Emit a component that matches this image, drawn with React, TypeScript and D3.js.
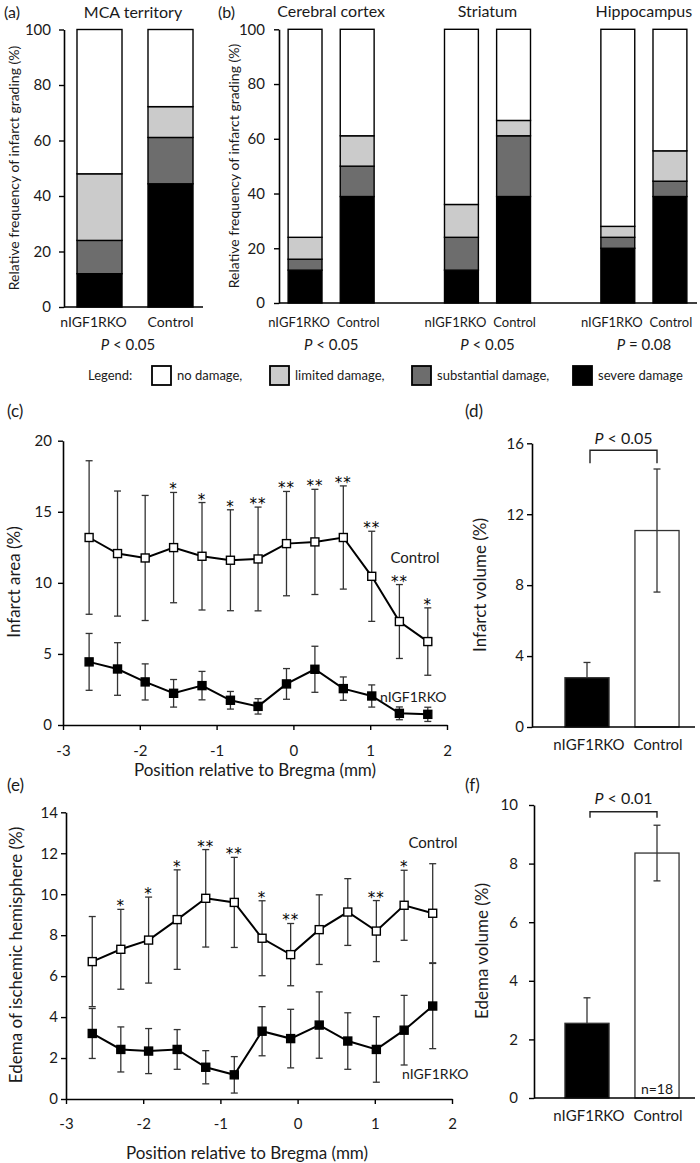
import React, { useEffect, useRef } from 'react'
import * as d3 from 'd3'

const FONT = 'Lato, "Open Sans", sans-serif'
const INK = '#1a1a1a'

// (a)/(b) infarct grading, % of animals in each grade
const regions = ['MCA territory', 'Cerebral cortex', 'Striatum', 'Hippocampus']
const groups = ['nIGF1RKO', 'Control']
const gradeKeys = ['severe', 'substantial', 'limited', 'none']
const legendKeys = ['none', 'limited', 'substantial', 'severe']
const legendLabels = ['no damage,', 'limited damage,', 'substantial damage,', 'severe damage']
const koSevere = [12, 12, 12, 20]
const koSubstantial = [12, 4, 12, 4]
const koLimited = [24, 8, 12, 4]
const koNone = [52, 76, 64, 72]
const ctrlSevere = [44.4, 38.9, 38.9, 38.9]
const ctrlSubstantial = [16.7, 11.1, 22.2, 5.6]
const ctrlLimited = [11.1, 11.1, 5.6, 11.1]
const ctrlNone = [27.8, 38.9, 33.3, 44.4]
const gradingP = ['P < 0.05', 'P < 0.05', 'P < 0.05', 'P = 0.08']
const gradingTicks = [0, 20, 40, 60, 80, 100]

// (c)/(e) slices relative to Bregma (mm)
const positions = [-2.66, -2.29, -1.93, -1.56, -1.19, -0.82, -0.46, -0.09, 0.28, 0.65, 1.02, 1.38, 1.75]
const posTicks = [-3, -2, -1, 0, 1, 2]

// (c) infarct area (%)
const infarctCtrl = [13.19, 12.06, 11.75, 12.48, 11.87, 11.59, 11.68, 12.76, 12.88, 13.19, 10.46, 7.28, 5.87]
const infarctCtrlSd = [5.4, 4.4, 4.4, 3.88, 3.78, 3.55, 3.65, 3.67, 3.7, 3.63, 3.17, 2.6, 2.37]
const infarctKo = [4.44, 3.94, 3.03, 2.23, 2.77, 1.74, 1.31, 2.89, 3.92, 2.56, 2.04, 0.82, 0.75]
const infarctKoSd = [2.0, 1.85, 1.27, 0.97, 1.0, 0.62, 0.54, 1.08, 1.62, 0.82, 0.78, 0.45, 0.5]
const infarctStars = ['', '', '', '*', '*', '*', '**', '**', '**', '**', '**', '**', '*']
const infarctTicks = [0, 5, 10, 15, 20]

// (e) edema of ischemic hemisphere (%)
const edemaCtrl = [6.71, 7.31, 7.76, 8.76, 9.8, 9.6, 7.85, 7.05, 8.27, 9.13, 8.2, 9.46, 9.07]
const edemaCtrlSd = [2.2, 1.95, 2.1, 2.43, 2.38, 2.2, 1.83, 1.52, 1.7, 1.63, 1.49, 1.71, 2.42]
const edemaKo = [3.2, 2.42, 2.34, 2.42, 1.55, 1.18, 3.31, 2.95, 3.61, 2.83, 2.42, 3.36, 4.54]
const edemaKoSd = [1.22, 1.1, 1.1, 0.97, 0.81, 0.89, 1.2, 1.43, 1.62, 1.38, 1.6, 1.7, 2.08]
const edemaStars = ['', '*', '*', '*', '**', '**', '*', '**', '', '', '**', '*', '']
const edemaTicks = [0, 2, 4, 6, 8, 10, 12, 14]

// (d) infarct volume, (f) edema volume (%)
const infarctVolume = [2.78, 11.08]
const infarctVolumeSd = [0.86, 3.47]
const infarctVolumeTicks = [0, 4, 8, 12, 16]
const edemaVolume = [2.55, 8.36]
const edemaVolumeSd = [0.87, 0.95]
const edemaVolumeTicks = [0, 2, 4, 6, 8, 10]

const gradeColors: Record<string, string> = {
  none: '#ffffff',
  limited: '#cbcbcb',
  substantial: '#6d6d6d',
  severe: '#000000'
}

function gradingRow(i: number, group: string) {
  const ko = group === 'nIGF1RKO'
  return {
    region: regions[i],
    group,
    severe: ko ? koSevere[i] : ctrlSevere[i],
    substantial: ko ? koSubstantial[i] : ctrlSubstantial[i],
    limited: ko ? koLimited[i] : ctrlLimited[i],
    none: ko ? koNone[i] : ctrlNone[i]
  }
}

export default function App() {
  const svgRef = useRef<SVGSVGElement>(null)

  useEffect(() => {
    const svg = d3.select(svgRef.current)
    svg.selectAll('*').remove()
    svg.attr('font-family', FONT)

    const text = (x: number, y: number, s: string, size: number, anchor = 'middle') =>
      svg.append('text')
        .attr('x', x).attr('y', y)
        .attr('text-anchor', anchor)
        .attr('font-size', size)
        .attr('fill', INK)
        .text(s)

    const vtext = (x: number, y: number, s: string, size: number) =>
      svg.append('text')
        .attr('transform', `translate(${x},${y}) rotate(-90)`)
        .attr('text-anchor', 'middle')
        .attr('dominant-baseline', 'central')
        .attr('font-size', size)
        .attr('fill', INK)
        .text(s)

    const pText = (x: number, y: number, s: string, size: number) => {
      const t = svg.append('text')
        .attr('x', x).attr('y', y)
        .attr('text-anchor', 'middle')
        .attr('font-size', size)
        .attr('fill', INK)
      t.append('tspan').attr('font-style', 'italic').text(s.slice(0, 1))
      t.append('tspan').text(s.slice(1))
    }

    const styleAxis = (g: any, size: number) => {
      g.attr('font-family', FONT)
      g.selectAll('text').attr('font-size', size).attr('fill', INK)
      g.selectAll('line').attr('stroke', '#000').attr('stroke-width', 1.4)
      g.select('.domain').attr('stroke', '#000').attr('stroke-width', 1.6)
    }

    const hline = (x1: number, x2: number, y: number) =>
      svg.append('line')
        .attr('x1', x1).attr('x2', x2).attr('y1', y).attr('y2', y)
        .attr('stroke', '#000').attr('stroke-width', 1.6)

    const drawStack = (rows: any[], xOf: (r: any) => number, w: number, y: any) => {
      const series = d3.stack<any>().keys(gradeKeys)(rows)
      svg.append('g')
        .selectAll('g')
        .data(series)
        .join('g')
        .attr('fill', d => gradeColors[d.key])
        .selectAll('rect')
        .data(d => d)
        .join('rect')
        .attr('x', d => xOf(d.data))
        .attr('y', d => y(d[1]))
        .attr('width', w)
        .attr('height', d => y(d[0]) - y(d[1]))
        .attr('stroke', '#000')
        .attr('stroke-width', 1.4)
    }

    // ---------- (a) MCA territory ----------
    const yA = d3.scaleLinear().domain([0, 100]).range([307, 29.5])
    const xA = d3.scaleBand().domain(groups).range([64, 206]).paddingInner(0.366).paddingOuter(0.183)
    drawStack(groups.map(g => gradingRow(0, g)), r => xA(r.group)!, xA.bandwidth(), yA)
    styleAxis(svg.append('g').attr('transform', 'translate(64,0)')
      .call(d3.axisLeft(yA).tickValues(gradingTicks).tickSize(5).tickSizeOuter(0).tickPadding(8)), 15)
    hline(64, 203, yA(0))
    text(4, 18, '(a)', 16, 'start')
    text((xA('nIGF1RKO')! + xA('Control')! + xA.bandwidth()) / 2 - 2, 18, regions[0], 16)
    vtext(13, 168, 'Relative frequency of infarct grading (%)', 14)
    groups.forEach((g, j) => text(xA(g)! + xA.bandwidth() / 2 - (j === 0 ? 6 : 0), 327, g, 14))
    pText((xA('nIGF1RKO')! + xA('Control')! + xA.bandwidth()) / 2 - 7, 350, gradingP[0], 15)

    // ---------- (b) cortex / striatum / hippocampus ----------
    const slots: string[] = []
    regions.slice(1).forEach((r, i) => {
      groups.forEach(g => slots.push(`${r}|${g}`))
      if (i < 2) slots.push(`gap${i}`)
    })
    const yB = d3.scaleLinear().domain([0, 100]).range([303, 29.3])
    const xB = d3.scaleBand().domain(slots).range([279, 696]).paddingInner(0.35).paddingOuter(0.175)
    const rowsB = regions.slice(1).flatMap((r, i) => groups.map(g => gradingRow(i + 1, g)))
    drawStack(rowsB, r => xB(`${r.region}|${r.group}`)!, xB.bandwidth(), yB)
    styleAxis(svg.append('g').attr('transform', 'translate(279,0)')
      .call(d3.axisLeft(yB).tickValues(gradingTicks).tickSize(5).tickSizeOuter(0).tickPadding(9)), 15)
    hline(279, 697, yB(0))
    text(218, 18, '(b)', 16, 'start')
    vtext(233, 166, 'Relative frequency of infarct grading (%)', 14)
    regions.slice(1).forEach((r, i) => {
      const x0 = xB(`${r}|nIGF1RKO`)!
      const x1 = xB(`${r}|Control`)!
      const mid = (x0 + x1 + xB.bandwidth()) / 2
      text(mid, 17, r, 16)
      text(x0 + xB.bandwidth() / 2 - 6, 327, 'nIGF1RKO', 13)
      text(x1 + xB.bandwidth() / 2 + 1, 327, 'Control', 13)
      pText(mid, 350, gradingP[i + 1], 15)
    })

    // legend
    const legendBoxX = [152, 270, 412, 573]
    text(88, 380, 'Legend:', 13, 'start')
    legendKeys.forEach((k, i) => {
      svg.append('rect')
        .attr('x', legendBoxX[i]).attr('y', 366)
        .attr('width', 19).attr('height', 19)
        .attr('fill', gradeColors[k])
        .attr('stroke', '#000').attr('stroke-width', 1.8)
      text(legendBoxX[i] + 25, 380, legendLabels[i], 13, 'start')
    })

    // ---------- line panels (c) and (e) ----------
    const drawLines = (
      x: any, y: any,
      ctrl: number[], ctrlSd: number[], ko: number[], koSd: number[], stars: string[]
    ) => {
      const g = svg.append('g')
      const errorBars = (mean: number[], sd: number[]) => {
        const eb = g.append('g').attr('stroke', '#333').attr('stroke-width', 1.3)
        eb.selectAll('line.v').data(mean).join('line').attr('class', 'v')
          .attr('x1', (d, i) => x(positions[i])).attr('x2', (d, i) => x(positions[i]))
          .attr('y1', (d, i) => y(d + sd[i])).attr('y2', (d, i) => y(d - sd[i]))
        ;[1, -1].forEach(sign => {
          eb.selectAll(`line.c${sign}`).data(mean).join('line').attr('class', `c${sign}`)
            .attr('x1', (d, i) => x(positions[i]) - 3.5).attr('x2', (d, i) => x(positions[i]) + 3.5)
            .attr('y1', (d, i) => y(d + sign * sd[i])).attr('y2', (d, i) => y(d + sign * sd[i]))
        })
      }
      errorBars(ctrl, ctrlSd)
      errorBars(ko, koSd)
      const line = d3.line<number>().x((d, i) => x(positions[i])).y(d => y(d))
      ;[[ctrl, '#fff'], [ko, '#000']].forEach(([vals, fill]: any) => {
        g.append('path').datum(vals).attr('d', line)
          .attr('fill', 'none').attr('stroke', '#000').attr('stroke-width', 2)
        g.selectAll(null).data(vals).join('rect')
          .attr('x', (d, i) => x(positions[i]) - 4).attr('y', (d: any) => y(d) - 4)
          .attr('width', 8).attr('height', 8)
          .attr('fill', fill).attr('stroke', '#000').attr('stroke-width', 1.4)
      })
      g.selectAll('text.star').data(stars).join('text').attr('class', 'star')
        .attr('x', (d, i) => x(positions[i]))
        .attr('y', (d, i) => y(ctrl[i] + ctrlSd[i]) + 2)
        .attr('text-anchor', 'middle')
        .attr('font-family', '"DejaVu Sans", sans-serif')
        .attr('font-size', 15)
        .attr('letter-spacing', 1)
        .attr('fill', '#000')
        .text(d => d)
    }

    // (c)
    const xC = d3.scaleLinear().domain([-3, 2]).range([63, 447])
    const yC = d3.scaleLinear().domain([0, 20]).range([725, 440.7])
    styleAxis(svg.append('g').attr('transform', `translate(63,0)`)
      .call(d3.axisLeft(yC).tickValues(infarctTicks).tickSize(5).tickSizeOuter(0).tickPadding(6)), 15)
    styleAxis(svg.append('g').attr('transform', `translate(0,${yC(0)})`)
      .call(d3.axisBottom(xC).tickValues(posTicks).tickFormat(d => String(d)).tickSize(5).tickSizeOuter(0).tickPadding(15)), 15)
    drawLines(xC, yC, infarctCtrl, infarctCtrlSd, infarctKo, infarctKoSd, infarctStars)
    text(7, 417, '(c)', 17, 'start')
    vtext(13, 582, 'Infarct area (%)', 17)
    text(255, 776, 'Position relative to Bregma (mm)', 17)
    text(415, 563, 'Control', 15)
    text(380, 702, 'nIGF1RKO', 14, 'start')

    // (e)
    const xE = d3.scaleLinear().domain([-3, 2]).range([66, 452])
    const yE = d3.scaleLinear().domain([0, 14]).range([1099, 812.3])
    styleAxis(svg.append('g').attr('transform', `translate(66,0)`)
      .call(d3.axisLeft(yE).tickValues(edemaTicks).tickSize(5).tickSizeOuter(0).tickPadding(3)), 15)
    styleAxis(svg.append('g').attr('transform', `translate(0,${yE(0)})`)
      .call(d3.axisBottom(xE).tickValues(posTicks).tickFormat(d => String(d)).tickSize(5).tickSizeOuter(0).tickPadding(14)), 15)
    drawLines(xE, yE, edemaCtrl, edemaCtrlSd, edemaKo, edemaKoSd, edemaStars)
    text(7, 791, '(e)', 17, 'start')
    vtext(15, 955, 'Edema of ischemic hemisphere (%)', 17)
    text(247, 1159, 'Position relative to Bregma (mm)', 17)
    text(433, 848, 'Control', 15)
    text(402, 1079, 'nIGF1RKO', 14, 'start')

    // ---------- bar panels (d) and (f) ----------
    const xBar = d3.scaleBand().domain(groups).range([552, 692]).paddingInner(0.37).paddingOuter(0.185)
    const drawBars = (
      y: any, mean: number[], sd: number[], ticks: number[], tickPad: number,
      axisX: number, p: string, pY: number, brY: number, legY: number, labelY: number
    ) => {
      styleAxis(svg.append('g').attr('transform', `translate(${axisX},0)`)
        .call(d3.axisLeft(y).tickValues(ticks).tickSize(5).tickSizeOuter(0).tickPadding(tickPad)), 15)
      const cx = (g: string) => xBar(g)! + xBar.bandwidth() / 2
      svg.append('g').selectAll('rect').data(mean).join('rect')
        .attr('x', (d, i) => xBar(groups[i])!)
        .attr('y', d => y(d))
        .attr('width', xBar.bandwidth())
        .attr('height', d => y(0) - y(d))
        .attr('fill', (d, i) => (i === 0 ? '#000' : '#fff'))
        .attr('stroke', '#333').attr('stroke-width', 1.3)
      const eb = svg.append('g').attr('stroke', '#333').attr('stroke-width', 1.3)
      mean.forEach((m, i) => {
        const x = cx(groups[i])
        const lo = i === 0 ? m : m - sd[i]
        eb.append('line').attr('x1', x).attr('x2', x).attr('y1', y(m + sd[i])).attr('y2', y(lo))
        eb.append('line').attr('x1', x - 3.5).attr('x2', x + 3.5).attr('y1', y(m + sd[i])).attr('y2', y(m + sd[i]))
        if (i > 0) eb.append('line').attr('x1', x - 3.5).attr('x2', x + 3.5).attr('y1', y(lo)).attr('y2', y(lo))
      })
      hline(axisX, 695, y(0))
      const b0 = cx(groups[0]) + 3
      const b1 = cx(groups[1])
      svg.append('path')
        .attr('d', `M${b0},${legY}V${brY}H${b1}V${legY}`)
        .attr('fill', 'none').attr('stroke', '#222').attr('stroke-width', 1.4)
      pText((b0 + b1) / 2, pY, p, 16)
      text(cx(groups[0]) + 2, labelY, groups[0], 15)
      text(cx(groups[1]) + 1, labelY, groups[1], 15)
    }

    // (d)
    const yD = d3.scaleLinear().domain([0, 16]).range([727, 443.3])
    drawBars(yD, infarctVolume, infarctVolumeSd, infarctVolumeTicks, 3, 532, 'P < 0.05', 444, 450.3, 463.3, 750)
    text(465, 417, '(d)', 17, 'start')
    vtext(479, 585, 'Infarct volume (%)', 17)

    // (f)
    const yF = d3.scaleLinear().domain([0, 10]).range([1098, 805])
    drawBars(yF, edemaVolume, edemaVolumeSd, edemaVolumeTicks, 11, 534, 'P < 0.01', 804, 811.7, 817.7, 1121)
    text(465, 791, '(f)', 17, 'start')
    vtext(481, 951, 'Edema volume (%)', 17)
    text(xBar('Control')! + xBar.bandwidth() / 2, 1094, 'n=18', 14)
  }, [])

  return (
    <svg
      ref={svgRef}
      width={700}
      height={1163}
      style={{ position: 'absolute', left: 0, top: 0, background: '#fff' }}
    />
  )
}
